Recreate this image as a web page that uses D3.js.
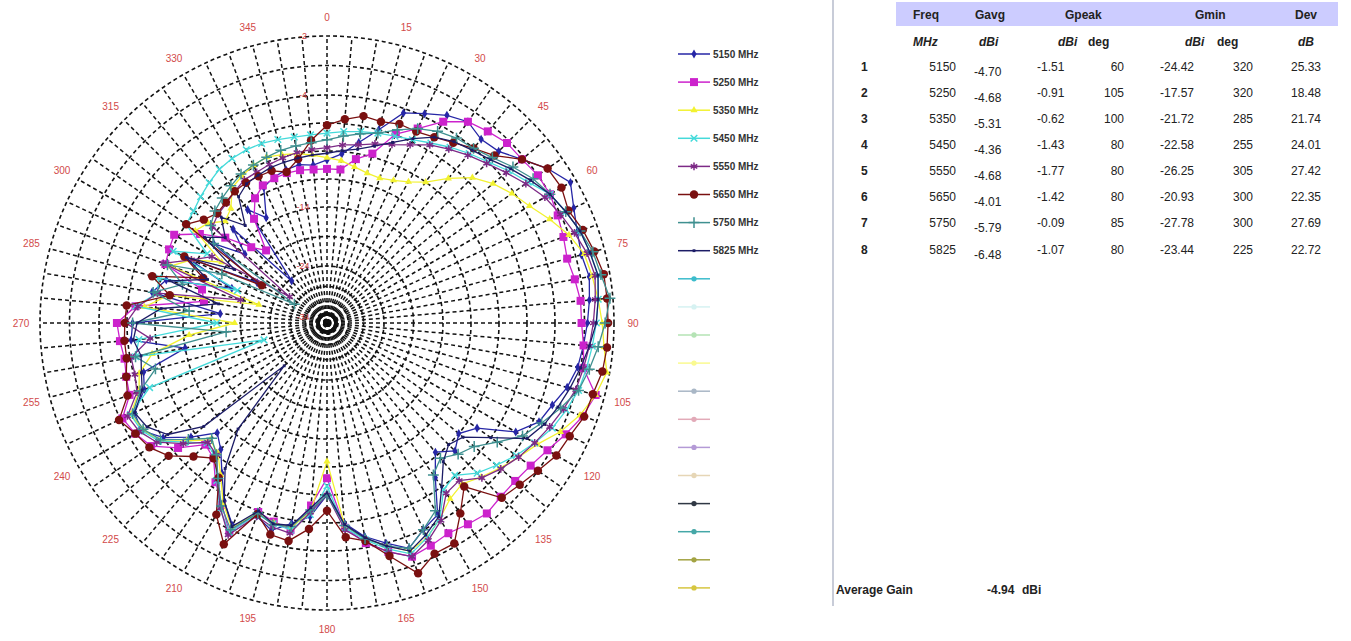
<!DOCTYPE html>
<html>
<head>
<meta charset="utf-8">
<script src="https://cdn.jsdelivr.net/npm/d3@7"></script>
<style>
  body { margin: 0; background: #fff; }
  svg { display: block; font-family: "Liberation Sans", Arial, sans-serif; }
</style>
</head>
<body>
<div id="chart"></div>
<script>
// angles every 5 degrees, clockwise from top
var angles = d3.range(0, 360, 5);

var freqLabels = ["5150 MHz", "5250 MHz", "5350 MHz", "5450 MHz", "5550 MHz", "5650 MHz", "5750 MHz", "5825 MHz"];

// gain (dBi), one value per 5 deg
var g5150 = [-9.8,-9.2,-8.0,-6.5,-4.4,-3.9,-3.6,-3.4,-3.6,-3.5,-3.1,-2.6,-2.2,-2.5,-2.7,-2.8,-2.7,-2.8,-2.9,-3.0,-3.1,-3.3,-3.6,-3.8,-4.9,-8.0,-9.0,-8.2,-9.3,-7.5,-4.6,-4.0,-3.6,-4.0,-5.0,-6.4,-9.0,-7.0,-6.2,-5.2,-6.0,-4.4,-6.0,-8.0,-9.6,-10.5,-8.5,-6.5,-5.2,-5.4,-7.0,-7.4,-11.5,-6.8,-7.0,-15.5,-8.5,-9.5,-16.5,-10.5,-20.0,-12.0,-15.5,-12.5,-24.4,-12.0,-13.5,-11.0,-10.5,-10.2,-10.0,-10.2];
var g5250 = [-10.6,-10.6,-9.5,-8.7,-6.4,-5.2,-3.85,-3.4,-3.25,-3.1,-3.1,-3.0,-3.0,-3.1,-3.2,-3.3,-3.2,-3.1,-3.1,-3.0,-2.9,-2.3,-2.5,-2.8,-3.1,-3.3,-3.4,-3.4,-3.3,-3.4,-3.5,-3.4,-3.3,-3.7,-4.4,-6.0,-10.5,-8.0,-5.6,-6.0,-6.4,-3.9,-5.6,-7.0,-8.6,-9.0,-7.0,-5.2,-4.6,-4.2,-5.6,-5.8,-6.0,-5.8,-5.6,-7.2,-13.2,-12.8,-9.0,-8.8,-8.6,-10.5,-12.5,-15.5,-17.6,-13.0,-11.5,-10.8,-10.6,-10.5,-10.5,-10.6];
var g5350 = [-9.6,-9.8,-10.2,-10.5,-10.6,-10.3,-9.8,-9.0,-7.5,-6.0,-5.0,-4.2,-3.8,-3.4,-3.0,-2.7,-2.6,-2.5,-2.4,-2.3,-2.1,-2.3,-2.6,-3.0,-3.5,-3.8,-4.2,-4.9,-5.6,-5.2,-4.2,-3.7,-3.5,-3.9,-4.8,-6.2,-12.0,-7.5,-5.8,-5.9,-6.3,-4.2,-5.8,-7.8,-9.2,-9.6,-8.0,-6.0,-5.4,-5.0,-6.5,-7.0,-8.5,-12.0,-18.0,-8.0,-10.0,-21.7,-9.5,-11.0,-13.5,-10.0,-10.5,-11.5,-11.0,-9.6,-9.2,-8.8,-8.6,-8.8,-9.0,-9.3];
var g5450 = [-7.4,-7.2,-7.0,-6.8,-6.6,-6.3,-5.8,-5.2,-4.6,-4.0,-3.7,-3.4,-3.0,-2.8,-2.6,-2.5,-2.4,-2.5,-2.6,-2.7,-2.8,-2.9,-3.1,-3.3,-3.6,-3.9,-4.6,-5.4,-6.6,-6.2,-4.2,-3.7,-3.4,-3.8,-4.7,-6.0,-9.8,-7.2,-5.6,-5.8,-6.2,-3.9,-5.2,-7.2,-8.8,-9.2,-7.8,-6.0,-5.2,-5.0,-7.5,-22.6,-7.0,-7.5,-15.0,-7.2,-9.0,-8.8,-17.5,-9.2,-12.0,-9.0,-8.8,-8.4,-8.0,-7.6,-7.4,-7.3,-7.3,-7.4,-7.5,-7.5];
var g5550 = [-8.7,-8.4,-8.2,-7.8,-7.4,-6.8,-6.0,-5.4,-4.8,-4.2,-3.8,-3.5,-3.2,-3.0,-2.8,-2.6,-2.5,-2.6,-2.7,-2.8,-2.9,-3.0,-3.2,-3.4,-3.6,-3.8,-4.1,-4.8,-6.0,-5.8,-4.0,-3.6,-3.3,-3.7,-4.5,-5.8,-9.0,-7.4,-5.3,-5.5,-6.0,-3.8,-5.3,-7.3,-9.0,-9.3,-7.6,-5.8,-5.0,-4.7,-6.3,-6.6,-6.6,-8.5,-6.4,-7.4,-9.0,-18.5,-8.8,-11.0,-12.5,-26.2,-11.0,-10.6,-10.4,-10.0,-9.6,-9.5,-9.3,-9.1,-8.9,-8.8];
var g5650 = [-6.7,-6.1,-5.6,-5.75,-5.45,-5.5,-5.2,-4.7,-4.0,-3.7,-3.1,-2.6,-2.55,-2.7,-2.5,-2.35,-2.2,-2.2,-2.2,-2.2,-2.25,-2.4,-2.45,-2.65,-2.75,-3.0,-3.2,-3.35,-5.3,-3.85,-3.1,-3.1,-2.7,-3.55,-4.6,-5.15,-7.6,-5.9,-4.6,-4.8,-6.2,-3.45,-4.6,-7.5,-8.6,-7.5,-5.9,-5.0,-4.6,-3.95,-5.4,-5.8,-6.2,-6.2,-6.3,-6.4,-10.1,-8.2,-12.6,-10.3,-20.9,-9.0,-10.0,-10.5,-10.3,-10.0,-9.9,-9.9,-9.9,-10.4,-9.5,-8.0];
var g5750 = [-8.0,-7.6,-7.2,-6.8,-6.0,-5.2,-4.6,-4.2,-4.0,-3.8,-3.5,-3.2,-3.0,-2.8,-2.6,-2.4,-2.3,-2.1,-2.3,-2.5,-2.7,-2.9,-3.3,-3.7,-4.2,-5.8,-7.2,-7.8,-8.6,-7.8,-5.0,-4.0,-3.6,-3.9,-4.8,-6.2,-9.0,-7.6,-5.9,-5.7,-6.3,-4.0,-5.5,-7.4,-9.0,-9.8,-8.2,-6.2,-5.4,-5.2,-6.6,-8.5,-7.0,-16.5,-7.0,-12.0,-8.6,-11.0,-9.2,-14.0,-27.8,-12.0,-10.8,-10.2,-9.8,-9.4,-9.0,-8.8,-8.6,-8.4,-8.3,-8.2];
var g5825 = [-9.2,-8.9,-8.6,-8.0,-7.2,-6.2,-5.2,-4.6,-4.2,-3.9,-3.6,-3.3,-3.0,-2.8,-2.6,-2.5,-2.4,-2.5,-2.6,-2.8,-3.0,-3.2,-3.4,-3.6,-3.9,-6.5,-8.5,-9.0,-8.2,-6.5,-4.4,-3.8,-3.5,-3.9,-4.9,-6.3,-9.2,-7.8,-6.0,-5.8,-6.5,-4.3,-6.0,-8.5,-12.0,-23.4,-10.0,-7.0,-5.8,-5.4,-6.8,-7.2,-7.5,-7.0,-7.4,-9.5,-15.0,-9.8,-13.0,-10.5,-15.5,-11.0,-12.5,-11.0,-13.0,-10.6,-10.0,-9.8,-9.6,-9.5,-9.4,-9.3];

// radial grid rings (dB) and the labelled ones
var ringValues = [-2, -3, -4, -6.5, -9, -11.5, -14, -19, -24, -28, -31, -33, -36];
var ringLabels = [-2, -4, -14, -24, -34];
var angleTicks = d3.range(0, 360, 15);

// table on the right
var rowNums = [1, 2, 3, 4, 5, 6, 7, 8];
var freqs = [5150, 5250, 5350, 5450, 5550, 5650, 5750, 5825];
var gavg = ["-4.70", "-4.68", "-5.31", "-4.36", "-4.68", "-4.01", "-5.79", "-6.48"];
var gpeakDb = ["-1.51", "-0.91", "-0.62", "-1.43", "-1.77", "-1.42", "-0.09", "-1.07"];
var gpeakDeg = [60, 105, 100, 80, 80, 80, 85, 80];
var gminDb = ["-24.42", "-17.57", "-21.72", "-22.58", "-26.25", "-20.93", "-27.78", "-23.44"];
var gminDeg = [320, 320, 285, 255, 305, 300, 300, 225];
var dev = ["25.33", "18.48", "21.74", "24.01", "27.42", "22.35", "27.69", "22.72"];
var averageGain = "-4.94";

var series = [g5150, g5250, g5350, g5450, g5550, g5650, g5750, g5825];
var colors = ["#2626a6", "#cc22cc", "#f2f230", "#44dada", "#7d2a86", "#7a1010", "#3f9090", "#1c1c66"];
var symbols = [d3.symbolDiamond, d3.symbolSquare, d3.symbolTriangle, d3.symbolTimes || d3.symbolCross,
    d3.symbolAsterisk || d3.symbolStar, d3.symbolCircle, d3.symbolPlus || d3.symbolCross, d3.symbolSquare];
var symbolSizes = [24, 64, 22, 30, 40, 56, 40, 8];
var strokeSymbols = [false, false, false, true, true, false, true, false];

// faded, unlabeled legend entries under the real ones
var spareColors = ["#3cbccc", "#d6f2f2", "#b5e3b5", "#fafa90", "#a9b7c6", "#e2aab8", "#b49ad6", "#e6d6b6", "#303844", "#45a7a7", "#a3a343", "#d6c640"];

var width = 1351, height = 641;
var cx = 327, cy = 323;

var svg = d3.select("#chart").append("svg")
    .attr("width", width)
    .attr("height", height);

var r = d3.scaleLinear()
    .domain([-40, -34, -24, -14, -4, -2])
    .range([0, 6, 57, 116, 228, 287])
    .clamp(true);
var a = d3.scaleLinear().domain([0, 360]).range([0, 2 * Math.PI]);

var polar = svg.append("g").attr("transform", "translate(" + cx + "," + cy + ")");

// grid: spokes every 5 deg and rings, all dashed
polar.append("g").selectAll("line").data(angles).enter().append("line")
    .attr("x1", 0).attr("y1", 0)
    .attr("x2", d => r(-2) * Math.sin(a(d)))
    .attr("y2", d => -r(-2) * Math.cos(a(d)))
    .attr("stroke", "#111")
    .attr("stroke-width", 1.5)
    .attr("stroke-dasharray", "4,3");

polar.append("g").selectAll("circle").data(ringValues).enter().append("circle")
    .attr("r", d => r(d))
    .attr("fill", "none")
    .attr("stroke", "#111")
    .attr("stroke-width", 1.6)
    .attr("stroke-dasharray", "4,3");

// angle labels
polar.append("g").selectAll("text").data(angleTicks).enter().append("text")
    .attr("x", d => 306 * Math.sin(a(d)))
    .attr("y", d => -306 * Math.cos(a(d)) + 3.5)
    .attr("text-anchor", "middle")
    .style("font-size", "10px")
    .style("fill", "#d24a4a")
    .text(d => d);

// traces
var line = d3.lineRadial()
    .angle((d, i) => a(angles[i]))
    .radius(d => r(d))
    .curve(d3.curveLinearClosed);

series.forEach(function (vals, si) {
    var g = polar.append("g");
    g.append("path")
        .attr("d", line(vals))
        .attr("fill", "none")
        .attr("stroke", colors[si])
        .attr("stroke-width", 1.3);
    g.selectAll("path.mk").data(vals).enter().append("path")
        .attr("class", "mk")
        .attr("transform", (d, i) => "translate(" + (r(d) * Math.sin(a(angles[i]))) + "," + (-r(d) * Math.cos(a(angles[i]))) + ")")
        .attr("d", d3.symbol().type(symbols[si]).size(symbolSizes[si]))
        .attr("fill", strokeSymbols[si] ? "none" : colors[si])
        .attr("stroke", strokeSymbols[si] ? colors[si] : "none")
        .attr("stroke-width", 1.5);
});

// ring labels, just left of the vertical axis
polar.append("g").selectAll("text").data(ringLabels).enter().append("text")
    .attr("x", -24)
    .attr("y", d => -r(d) + 3)
    .attr("text-anchor", "middle")
    .style("font-size", "9px")
    .style("fill", "#cc3a3a")
    .text(d => d);

// legend
var legend = svg.append("g").attr("transform", "translate(678,54)");
var legendRows = freqLabels.map((f, i) => ({label: f, color: colors[i], sym: symbols[i], size: symbolSizes[i], stroke: strokeSymbols[i]}))
    .concat(spareColors.map(c => ({label: "", color: c, sym: d3.symbolCircle, size: 22, stroke: false})));

var entry = legend.selectAll("g").data(legendRows).enter().append("g")
    .attr("transform", (d, i) => "translate(0," + (i * 28.1) + ")");
entry.append("line")
    .attr("x1", 0).attr("x2", 32)
    .attr("stroke", d => d.color)
    .attr("stroke-width", 1.5);
entry.append("path")
    .attr("transform", "translate(16,0)")
    .attr("d", d => d3.symbol().type(d.sym).size(d.size)())
    .attr("fill", d => d.stroke ? "none" : d.color)
    .attr("stroke", d => d.stroke ? d.color : "none")
    .attr("stroke-width", 1.5);
entry.append("text")
    .attr("x", 35).attr("y", 3.5)
    .style("font-size", "10px")
    .style("font-weight", "bold")
    .style("fill", "#333")
    .text(d => d.label);

// results table
var table = svg.append("g");
table.append("line")
    .attr("x1", 833).attr("x2", 833).attr("y1", 0).attr("y2", 606)
    .attr("stroke", "#c8ccd8").attr("stroke-width", 2);
table.append("rect")
    .attr("x", 896).attr("y", 2).attr("width", 442).attr("height", 24)
    .attr("fill", "#ccccff");

var headers = [["Freq", 913], ["Gavg", 975], ["Gpeak", 1065], ["Gmin", 1195], ["Dev", 1295]];
table.selectAll("text.hd").data(headers).enter().append("text")
    .attr("class", "hd")
    .attr("x", d => d[1]).attr("y", 18.5)
    .style("font-size", "12px").style("font-weight", "bold").style("fill", "#222")
    .text(d => d[0]);

var units = [["MHz", 913, true], ["dBi", 979, true], ["dBi", 1058, true], ["deg", 1088, false],
    ["dBi", 1185, true], ["deg", 1217, false], ["dB", 1298, true]];
table.selectAll("text.un").data(units).enter().append("text")
    .attr("class", "un")
    .attr("x", d => d[1]).attr("y", 45.5)
    .style("font-size", "12px").style("font-weight", "bold")
    .style("font-style", d => d[2] ? "italic" : "normal")
    .style("fill", "#222")
    .text(d => d[0]);

var rowY = d3.scaleLinear().domain([1, 8]).range([71, 253.5]);
var cols = [
    {vals: rowNums, x: 861, anchor: "start", bold: true, dy: 0},
    {vals: freqs, x: 956, anchor: "end", bold: false, dy: 0},
    {vals: gavg, x: 974, anchor: "start", bold: false, dy: 5},
    {vals: gpeakDb, x: 1037, anchor: "start", bold: false, dy: 0},
    {vals: gpeakDeg, x: 1124, anchor: "end", bold: false, dy: 0},
    {vals: gminDb, x: 1160, anchor: "start", bold: false, dy: 0},
    {vals: gminDeg, x: 1253, anchor: "end", bold: false, dy: 0},
    {vals: dev, x: 1321, anchor: "end", bold: false, dy: 0}
];
cols.forEach(function (c) {
    table.append("g").selectAll("text").data(c.vals).enter().append("text")
        .attr("x", c.x)
        .attr("y", (d, i) => rowY(rowNums[i]) + c.dy)
        .attr("text-anchor", c.anchor)
        .style("font-size", "12px")
        .style("font-weight", c.bold ? "bold" : "normal")
        .style("fill", "#222")
        .text(d => d);
});

table.append("text").attr("x", 836).attr("y", 594)
    .style("font-size", "12px").style("font-weight", "bold").style("fill", "#222")
    .text("Average Gain");
table.append("text").attr("x", 987).attr("y", 594)
    .style("font-size", "12px").style("font-weight", "bold").style("fill", "#222")
    .text(averageGain);
table.append("text").attr("x", 1022).attr("y", 594)
    .style("font-size", "12px").style("font-weight", "bold").style("fill", "#222")
    .text("dBi");
</script>
</body>
</html>
